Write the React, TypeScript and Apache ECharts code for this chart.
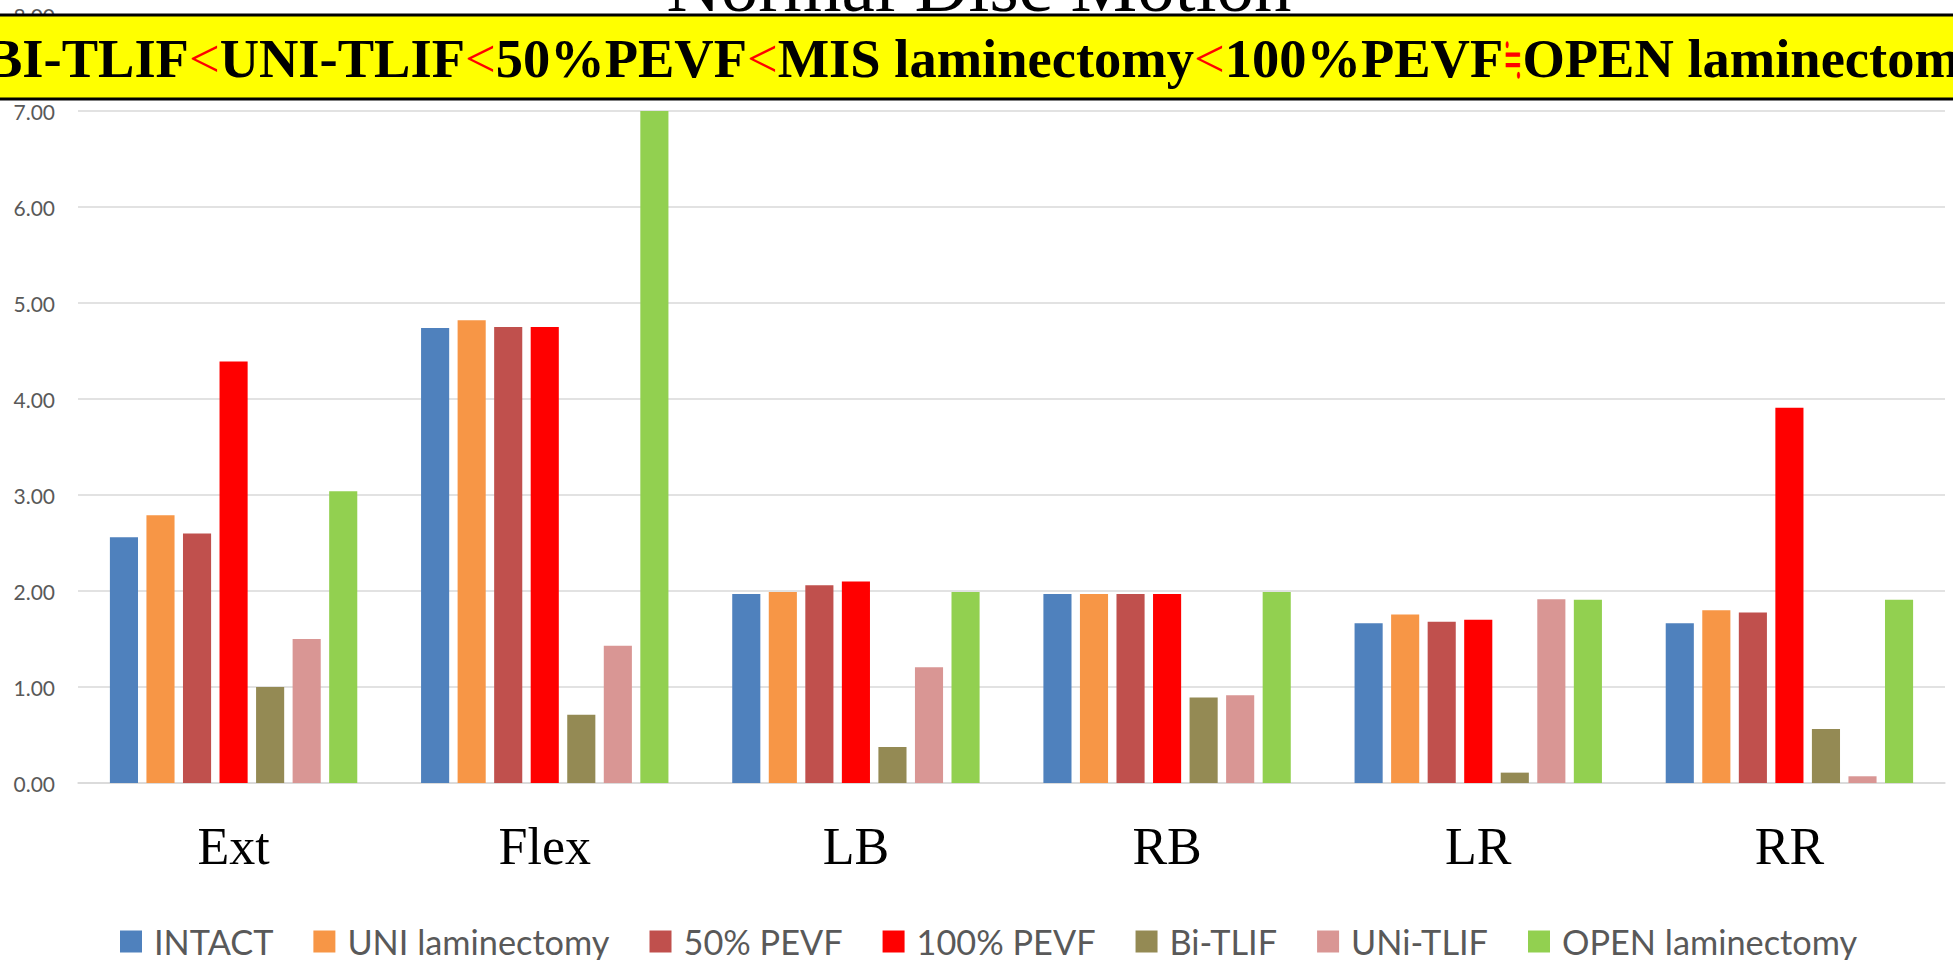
import React, { useEffect, useRef } from "react";
import * as echarts from "echarts";

const categories = ["Ext", "Flex", "LB", "RB", "LR", "RR"];
const seriesNames = [
  "INTACT",
  "UNI laminectomy",
  "50% PEVF",
  "100% PEVF",
  "Bi-TLIF",
  "UNi-TLIF",
  "OPEN laminectomy",
];
const intact = [2.56, 4.74, 1.97, 1.97, 1.665, 1.665];
const uniLaminectomy = [2.79, 4.82, 1.99, 1.97, 1.755, 1.8];
const pevf50 = [2.6, 4.75, 2.06, 1.97, 1.68, 1.776];
const pevf100 = [4.39, 4.75, 2.1, 1.97, 1.7, 3.91];
const biTlif = [1.0, 0.71, 0.375, 0.89, 0.108, 0.563];
const uniTlif = [1.5, 1.43, 1.205, 0.915, 1.915, 0.07];
const openLaminectomy = [3.04, 7.0, 1.99, 1.99, 1.91, 1.91];
const seriesValues = [intact, uniLaminectomy, pevf50, pevf100, biTlif, uniTlif, openLaminectomy];
const colors = ["#4F81BD", "#F79646", "#C0504D", "#FF0000", "#948A54", "#D99694", "#92D050"];

const chartTitle = "Normal Disc Motion";
const bannerLeftParts = ["BI-TLIF", "<", "UNI-TLIF", "<", "50%PEVF", "<", "MIS laminectomy", "<", "100%PEVF"];
const bannerEq = "≒";
const bannerRight = "OPEN laminectomy";

const BANNER_SIZE = 54.5;
const BOLD_FONT = `bold ${BANNER_SIZE}px "Liberation Serif"`;
const RED_FONT = `${BANNER_SIZE}px "Liberation Serif"`;
const EQ_FONT = `${BANNER_SIZE}px "DejaVu Serif"`;
const EQ_SCALE = 0.42;

function measure(text: string, font: string): number {
  const c = document.createElement("canvas").getContext("2d");
  if (!c) return text.length * BANNER_SIZE * 0.5;
  c.font = font;
  return c.measureText(text).width;
}

export default function App() {
  const ref = useRef<HTMLDivElement>(null);
  useEffect(() => {
    if (!ref.current) return;
    const chart = echarts.init(ref.current, null, { renderer: "svg" });
    const bannerLeftText = bannerLeftParts
      .map((p) => (p === "<" ? `{r|${p}}` : `{b|${p}}`))
      .join("");
    const startX = -14;
    const leftW = bannerLeftParts.reduce(
      (s, p) => s + measure(p, p === "<" ? RED_FONT : BOLD_FONT),
      0
    );
    const eqW = measure(bannerEq, EQ_FONT) * EQ_SCALE;
    const eqX = startX + leftW;
    const rightX = eqX + eqW;

    chart.setOption({
      animation: false,
      backgroundColor: "#FFFFFF",
      grid: { left: 78, right: 8, top: 15, bottom: 177, containLabel: false },
      legend: {
        data: seriesNames,
        left: 120,
        top: 924,
        padding: 0,
        itemWidth: 22,
        itemHeight: 22,
        itemGap: 40,
        icon: "rect",
        textStyle: {
          fontFamily: "Lato",
          fontSize: 34.3,
          lineHeight: 35,
          color: "#595959",
          padding: [0, 0, 0, 7],
        },
      },
      xAxis: {
        type: "category",
        data: categories,
        axisTick: { show: false },
        axisLine: { lineStyle: { color: "#D9D9D9", width: 1.5 } },
        axisLabel: {
          fontFamily: "Liberation Serif",
          fontSize: 52,
          color: "#000000",
          margin: 37,
        },
      },
      yAxis: {
        type: "value",
        min: 0,
        max: 8,
        interval: 1,
        axisLine: { show: false },
        axisTick: { show: false },
        axisLabel: {
          formatter: (v: number) => v.toFixed(2),
          fontFamily: "Lato",
          fontSize: 21,
          color: "#595959",
          margin: 23,
        },
        splitLine: { lineStyle: { color: "#D9D9D9", width: 1.5 } },
      },
      series: seriesNames.map((name, i) => ({
        name,
        type: "bar",
        data: seriesValues[i],
        itemStyle: { color: colors[i] },
        barGap: "30%",
        barCategoryGap: "20.5%",
      })),
      graphic: [
        {
          type: "text",
          z: 100,
          x: 979,
          y: -15,
          style: {
            text: chartTitle,
            font: '75px "Liberation Serif"',
            fill: "#000000",
            align: "center",
            verticalAlign: "middle",
          },
        },
        {
          type: "rect",
          z: 101,
          shape: { x: -5, y: 15, width: 1965, height: 84 },
          style: { fill: "#FFFF00", stroke: "#000000", lineWidth: 3 },
        },
        {
          type: "text",
          z: 102,
          x: startX,
          y: 58,
          style: {
            text: bannerLeftText,
            align: "left",
            verticalAlign: "middle",
            rich: {
              b: {
                fontFamily: "Liberation Serif",
                fontWeight: "bold",
                fontSize: BANNER_SIZE,
                fill: "#000000",
              },
              r: {
                fontFamily: "Liberation Serif",
                fontSize: BANNER_SIZE,
                fill: "#FF0000",
              },
            },
          },
        },
        {
          type: "text",
          z: 102,
          x: eqX,
          y: 58,
          scaleX: EQ_SCALE,
          style: {
            text: bannerEq,
            font: EQ_FONT,
            fill: "#FF0000",
            align: "left",
            verticalAlign: "middle",
          },
        },
        {
          type: "text",
          z: 102,
          x: rightX,
          y: 58,
          style: {
            text: bannerRight,
            font: BOLD_FONT,
            fill: "#000000",
            align: "left",
            verticalAlign: "middle",
          },
        },
      ],
    });
    return () => chart.dispose();
  }, []);
  return (
    <div
      ref={ref}
      style={{ position: "absolute", left: 0, top: 0, width: 1953, height: 960 }}
    />
  );
}
